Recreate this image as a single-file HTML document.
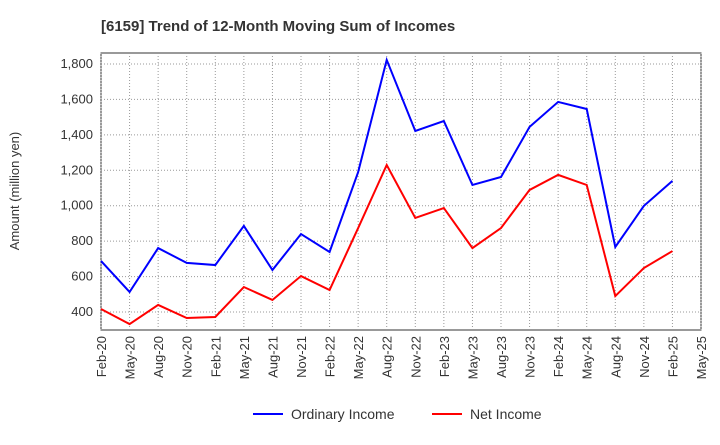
<!DOCTYPE html>
<html><head><meta charset="utf-8"><style>
body{margin:0;background:#fff;font-family:"Liberation Sans",sans-serif}
</style></head><body>
<svg id="chart" width="720" height="440" xmlns="http://www.w3.org/2000/svg" font-family="Liberation Sans, sans-serif">
<text x="101" y="31" font-size="15" font-weight="bold" fill="#333">[6159]  Trend of 12-Month Moving Sum of Incomes</text>
<text transform="translate(19,191) rotate(-90)" text-anchor="middle" font-size="13" fill="#333">Amount (million yen)</text>
<rect x="101" y="53" width="600" height="277" fill="none" stroke="#333" stroke-width="1"/>
<g id="grid"></g><g id="axes"></g><g id="series"></g>
<g>
<line x1="253" y1="414" x2="283" y2="414" stroke="#0000ff" stroke-width="2"/>
<text x="291" y="419" font-size="14" fill="#333">Ordinary Income</text>
<line x1="432" y1="414" x2="462" y2="414" stroke="#ff0000" stroke-width="2"/>
<text x="470" y="419" font-size="14" fill="#333">Net Income</text>
</g>
</svg>
<script>
const categories=["Feb-20","May-20","Aug-20","Nov-20","Feb-21","May-21","Aug-21","Nov-21","Feb-22","May-22","Aug-22","Nov-22","Feb-23","May-23","Aug-23","Nov-23","Feb-24","May-24","Aug-24","Nov-24","Feb-25","May-25"];
const ordinaryIncome=[688,513,761,677,665,886,637,840,739,1190,1823,1422,1478,1117,1162,1445,1586,1546,767,999,1140];
const netIncome=[417,332,440,366,372,541,468,603,524,874,1230,931,987,761,874,1089,1174,1117,490,648,744];
const yTicks=[400,600,800,1000,1200,1400,1600,1800];
const NS="http://www.w3.org/2000/svg";
const x=i=>101+i*600/(categories.length-1);
const y=v=>312-(v-400)*0.17714;
function mk(t,a,p){const e=document.createElementNS(NS,t);for(const k in a)e.setAttribute(k,a[k]);p.appendChild(e);return e;}
const grid=document.getElementById('grid'),axes=document.getElementById('axes'),ser=document.getElementById('series');
yTicks.forEach(v=>{
 const l=mk('line',{x1:101,x2:701,y1:y(v),y2:y(v),stroke:'#999','stroke-dasharray':'1,2'},grid);
 
 
 const t=mk('text',{x:93,y:y(v)+4,'text-anchor':'end','font-size':13,fill:'#333'},axes);
 t.textContent=v.toLocaleString('en-US');
 
 
});
categories.forEach((c,i)=>{
 const l=mk('line',{x1:x(i),x2:x(i),y1:53,y2:330,stroke:'#999','stroke-dasharray':'1,2'},grid);
 
 
 const t=mk('text',{transform:`translate(${x(i)+5},336) rotate(-90)`,'text-anchor':'end','font-size':13,fill:'#333'},axes);
 t.textContent=c;
 
 
});
function line(d,col,name){
 const p=mk('polyline',{points:d.map((v,i)=>x(i)+','+y(v)).join(' '),fill:'none',stroke:col,'stroke-width':2},ser);
 
 
}
line(ordinaryIncome,'#0000ff','ordinary-income-line');
line(netIncome,'#ff0000','net-income-line');
</script>
</body></html>
